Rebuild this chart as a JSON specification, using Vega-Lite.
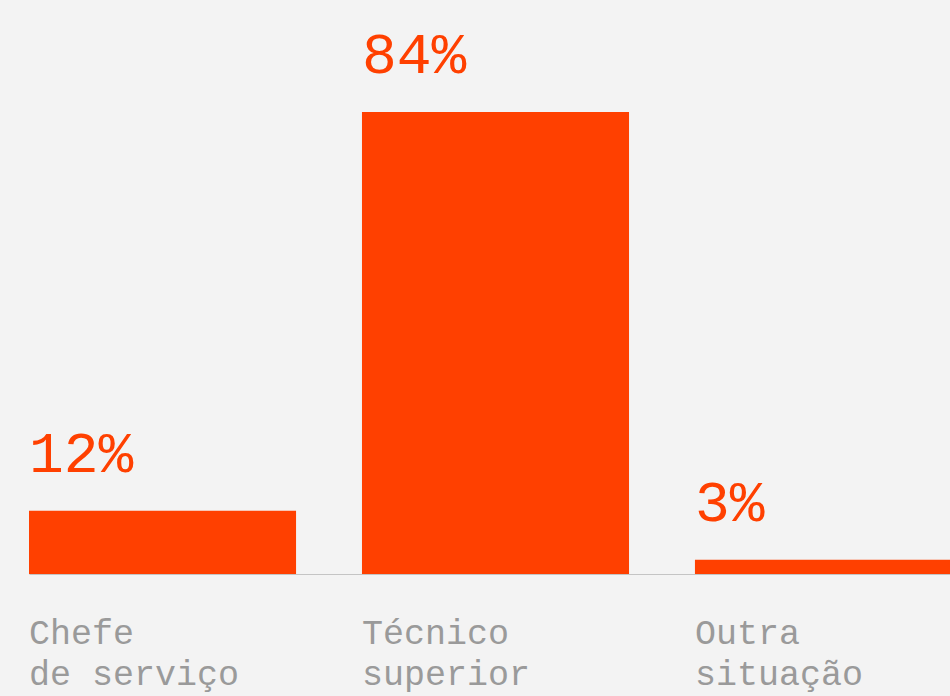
{
  "$schema": "https://vega.github.io/schema/vega-lite/v6.json",
  "autosize": {"type": "none"},
  "width": 921,
  "height": 462,
  "padding": {"left": 29, "top": 112, "right": 0, "bottom": 122},
  "background": "#f3f3f3",
  "config": {"view": {"stroke": null}},
  "data": {
    "values": [
      {"category": "Chefe de serviço", "share": 0.115},
      {"category": "Técnico superior", "share": 0.839},
      {"category": "Outra situação", "share": 0.026}
    ]
  },
  "encoding": {
    "x": {
      "field": "category",
      "type": "nominal",
      "sort": null,
      "scale": {"range": [0, 933], "paddingInner": 0.198, "paddingOuter": 0},
      "axis": {
        "title": null,
        "ticks": false,
        "domainColor": "#c4c4c4",
        "domainWidth": 1,
        "labelAngle": 0,
        "labelAlign": "left",
        "labelBaseline": "top",
        "labelOffset": -133.5,
        "labelPadding": 41,
        "labelFont": "Liberation Mono",
        "labelFontSize": 35,
        "labelLineHeight": 41,
        "labelColor": "#9a9a9a",
        "labelLimit": 400,
        "labelOverlap": false,
        "labelExpr": "[slice(datum.label, 0, indexof(datum.label, ' ')), slice(datum.label, indexof(datum.label, ' ') + 1)]"
      }
    },
    "y": {
      "field": "share",
      "type": "quantitative",
      "scale": {"domain": [0, 0.839], "nice": false, "zero": true},
      "axis": null
    }
  },
  "layer": [
    {"mark": {"type": "bar", "color": "#ff4000"}},
    {
      "mark": {
        "type": "text",
        "align": "left",
        "baseline": "alphabetic",
        "dy": -39,
        "font": "Liberation Mono",
        "fontSize": 58,
        "color": "#ff4000"
      },
      "encoding": {
        "x": {"field": "category", "type": "nominal", "sort": null, "bandPosition": 0},
        "text": {"field": "share", "type": "quantitative", "format": ".0%"}
      }
    }
  ]
}
